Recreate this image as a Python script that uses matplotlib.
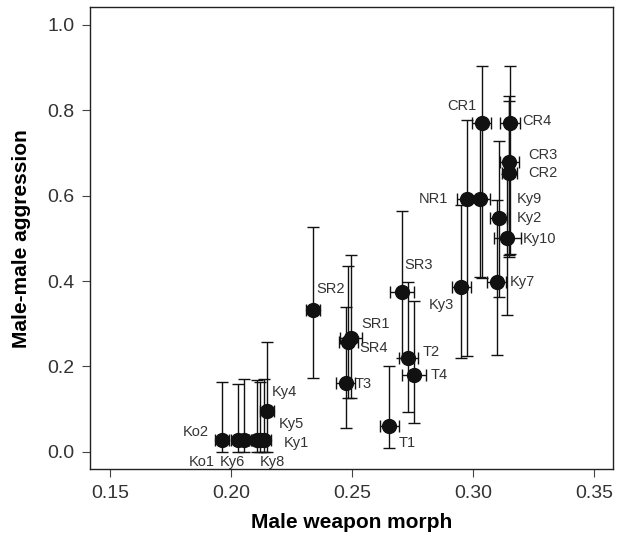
import matplotlib.pyplot as plt
import numpy as np

plt.rcParams['font.family'] = ['Liberation Sans', 'DejaVu Sans']

# population codes and values
sites = ['Ko2', 'Ko1', 'Ky6', 'Ky8', 'Ky5', 'Ky1', 'Ky4', 'SR2', 'SR1', 'SR4', 'T3',
         'SR3', 'T2', 'T4', 'T1', 'Ky3', 'NR1', 'Ky9', 'CR1', 'CR4', 'CR3', 'CR2',
         'Ky2', 'Ky10', 'Ky7']
weapon = [0.1962, 0.2029, 0.2054, 0.2106, 0.2118, 0.2136, 0.2148, 0.2338, 0.2497, 0.2485, 0.2474,
          0.2706, 0.2733, 0.2757, 0.2654, 0.2951, 0.2973, 0.3029, 0.3036, 0.3153, 0.3150, 0.3150,
          0.3105, 0.3142, 0.3098]
weapon_err = [0.003, 0.003, 0.003, 0.003, 0.003, 0.003, 0.003, 0.003, 0.0045, 0.004, 0.004,
              0.005, 0.004, 0.005, 0.004, 0.004, 0.004, 0.004, 0.004, 0.004, 0.004, 0.003,
              0.0037, 0.0055, 0.004]
aggression = [0.027, 0.027, 0.027, 0.027, 0.027, 0.027, 0.096, 0.333, 0.266, 0.258, 0.160,
              0.375, 0.219, 0.180, 0.060, 0.387, 0.592, 0.592, 0.771, 0.771, 0.680, 0.654,
              0.547, 0.500, 0.398]
aggr_low = [0.0, 0.0, 0.0, 0.0, 0.0, 0.0, 0.0, 0.172, 0.126, 0.126, 0.055,
            0.220, 0.093, 0.068, 0.008, 0.219, 0.225, 0.410, 0.406, 0.463, 0.460, 0.457,
            0.362, 0.320, 0.226]
aggr_high = [0.164, 0.159, 0.171, 0.167, 0.163, 0.171, 0.258, 0.527, 0.462, 0.435, 0.338,
             0.563, 0.398, 0.353, 0.201, 0.578, 0.778, 0.770, 0.905, 0.905, 0.833, 0.822,
             0.728, 0.650, 0.590]

# label offsets from each point in pixels (dx, dy, horizontal alignment)
label_pos = {
    'Ko2': (-13, 8, 'right'), 'Ko1': (-36, -22, 'center'), 'Ky6': (-12, -22, 'center'),
    'Ky8': (16, -22, 'center'), 'Ky5': (19, 16, 'left'), 'Ky1': (20, -3, 'left'),
    'Ky4': (5, 19, 'left'), 'SR2': (3, 21, 'left'), 'SR1': (10, 14, 'left'),
    'SR4': (11, -6, 'left'), 'T3': (9, -1, 'left'), 'SR3': (2, 27, 'left'),
    'T2': (14, 6, 'left'), 'T4': (16, 0, 'left'), 'T1': (9, -17, 'left'),
    'Ky3': (-7, -18, 'right'), 'NR1': (-18, 0, 'right'), 'Ky9': (37, 0, 'left'),
    'CR1': (-5, 17, 'right'), 'CR4': (12, 2, 'left'), 'CR3': (19, 7, 'left'),
    'CR2': (19, 0, 'left'), 'Ky2': (18, 0, 'left'), 'Ky10': (15, -1, 'left'),
    'Ky7': (13, 0, 'left'),
}

dpi = 100
fig = plt.figure(figsize=(6.23, 5.36), dpi=dpi)
ax = fig.add_axes([0.1445, 0.1244, 0.839, 0.862])

x = np.array(weapon)
y = np.array(aggression)
yerr = [y - np.array(aggr_low), np.array(aggr_high) - y]

ax.errorbar(x, y, xerr=weapon_err, yerr=yerr, fmt='o', color='#111111',
            markersize=10, elinewidth=1.0, capsize=4.5, capthick=1.0, zorder=3)

px2pt = 72 / dpi
for s, xi, yi in zip(sites, x, y):
    dx, dy, ha = label_pos[s]
    ax.annotate(s, (xi, yi), xytext=(dx * px2pt, dy * px2pt), textcoords='offset points',
                ha=ha, va='center', fontsize=10.5, color='#333333')

ax.set_xlim(0.1417, 0.3577)
ax.set_ylim(-0.0413, 1.0415)
ax.set_xticks([0.15, 0.20, 0.25, 0.30, 0.35])
ax.set_xticklabels(['0.15', '0.20', '0.25', '0.30', '0.35'])
ax.set_yticks([0.0, 0.2, 0.4, 0.6, 0.8, 1.0])
ax.set_yticklabels(['0.0', '0.2', '0.4', '0.6', '0.8', '1.0'])
ax.tick_params(direction='out', length=6, width=0.8, color='#444444',
               labelsize=14, labelcolor='#333333', pad=5)
for sp in ax.spines.values():
    sp.set_linewidth(1.0)
    sp.set_color('#222222')

ax.set_xlabel('Male weapon morph', fontsize=15, fontweight='bold', labelpad=8)
ax.set_ylabel('Male-male aggression', fontsize=15, fontweight='bold', labelpad=12)

fig.savefig('out.png', dpi=dpi)
